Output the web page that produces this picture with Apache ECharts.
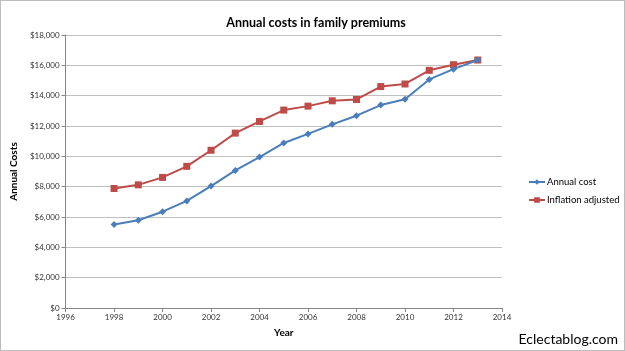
<!DOCTYPE html>
<html>
<head>
<meta charset="utf-8">
<script src="https://cdn.jsdelivr.net/npm/echarts@6/dist/echarts.min.js"></script>
<style>
  html, body { margin: 0; padding: 0; background: #fff; }
  #chart { width: 623px; height: 349px; border: 1px solid #bdbdbd; }
</style>
</head>
<body>
<div id="chart"></div>
<script>
const years = [1998, 1999, 2000, 2001, 2002, 2003, 2004, 2005, 2006, 2007, 2008, 2009, 2010, 2011, 2012, 2013]
const annualCost = [5500, 5790, 6350, 7060, 8040, 9070, 9950, 10880, 11480, 12110, 12680, 13380, 13770, 15070, 15750, 16350]
const inflationAdjusted = [7880, 8120, 8610, 9340, 10400, 11530, 12300, 13050, 13310, 13660, 13750, 14600, 14770, 15670, 16040, 16350]

const font = 'Lato, "Open Sans", sans-serif'
const chart = echarts.init(document.getElementById('chart'))

chart.setOption({
  animation: false,
  textStyle: { fontFamily: font },
  title: {
    text: 'Annual costs in family premiums',
    left: 310,
    textAlign: 'center',
    top: 10,
    textStyle: { fontSize: 12.5, fontWeight: 'bold', color: '#000', fontFamily: font }
  },
  grid: { left: 63, right: 122, top: 34, bottom: 42 },
  legend: {
    orient: 'vertical',
    left: 522,
    top: 171,
    itemWidth: 16,
    itemHeight: 7,
    itemGap: 8,
    textStyle: { fontSize: 9.5, color: '#000', fontFamily: font, padding: [0, 0, 0, -3] },
    data: ['Annual cost', 'Inflation adjusted']
  },
  graphic: [{
    type: 'text',
    right: 6,
    bottom: 4,
    style: { text: 'Eclectablog.com', fontSize: 14, fill: '#000', fontFamily: font }
  }],
  xAxis: {
    type: 'value',
    min: 1996,
    max: 2014,
    interval: 2,
    name: 'Year',
    nameLocation: 'middle',
    nameGap: 20,
    nameTextStyle: { fontSize: 10, fontWeight: 'bold', color: '#000' },
    axisLine: { lineStyle: { color: '#868686' } },
    axisTick: { show: true, length: 4, lineStyle: { color: '#868686' } },
    axisLabel: { fontSize: 8, color: '#333', margin: 5, formatter: v => String(v) },
    splitLine: { show: false }
  },
  yAxis: {
    type: 'value',
    min: 0,
    max: 18000,
    interval: 2000,
    name: 'Annual Costs',
    nameLocation: 'middle',
    nameGap: 36,
    nameTextStyle: { fontSize: 10, fontWeight: 'bold', color: '#000' },
    axisLine: { show: true, lineStyle: { color: '#868686' } },
    axisTick: { show: true, length: 4, lineStyle: { color: '#868686' } },
    axisLabel: {
      fontSize: 8, color: '#333', margin: 6,
      formatter: v => '$' + v.toLocaleString('en-US')
    },
    splitLine: { lineStyle: { color: '#c0c0c0', width: 1 } }
  },
  series: [
    {
      name: 'Annual cost',
      type: 'line',
      data: years.map((y, i) => [y, annualCost[i]]),
      symbol: 'diamond',
      symbolSize: 7,
      itemStyle: { color: '#4a7ebb' },
      lineStyle: { color: '#4a7ebb', width: 2 },
      z: 3
    },
    {
      name: 'Inflation adjusted',
      type: 'line',
      data: years.map((y, i) => [y, inflationAdjusted[i]]),
      symbol: 'rect',
      symbolSize: 7,
      itemStyle: { color: '#be4b48' },
      lineStyle: { color: '#be4b48', width: 2 },
      z: 2
    }
  ]
})
</script>
</body>
</html>
